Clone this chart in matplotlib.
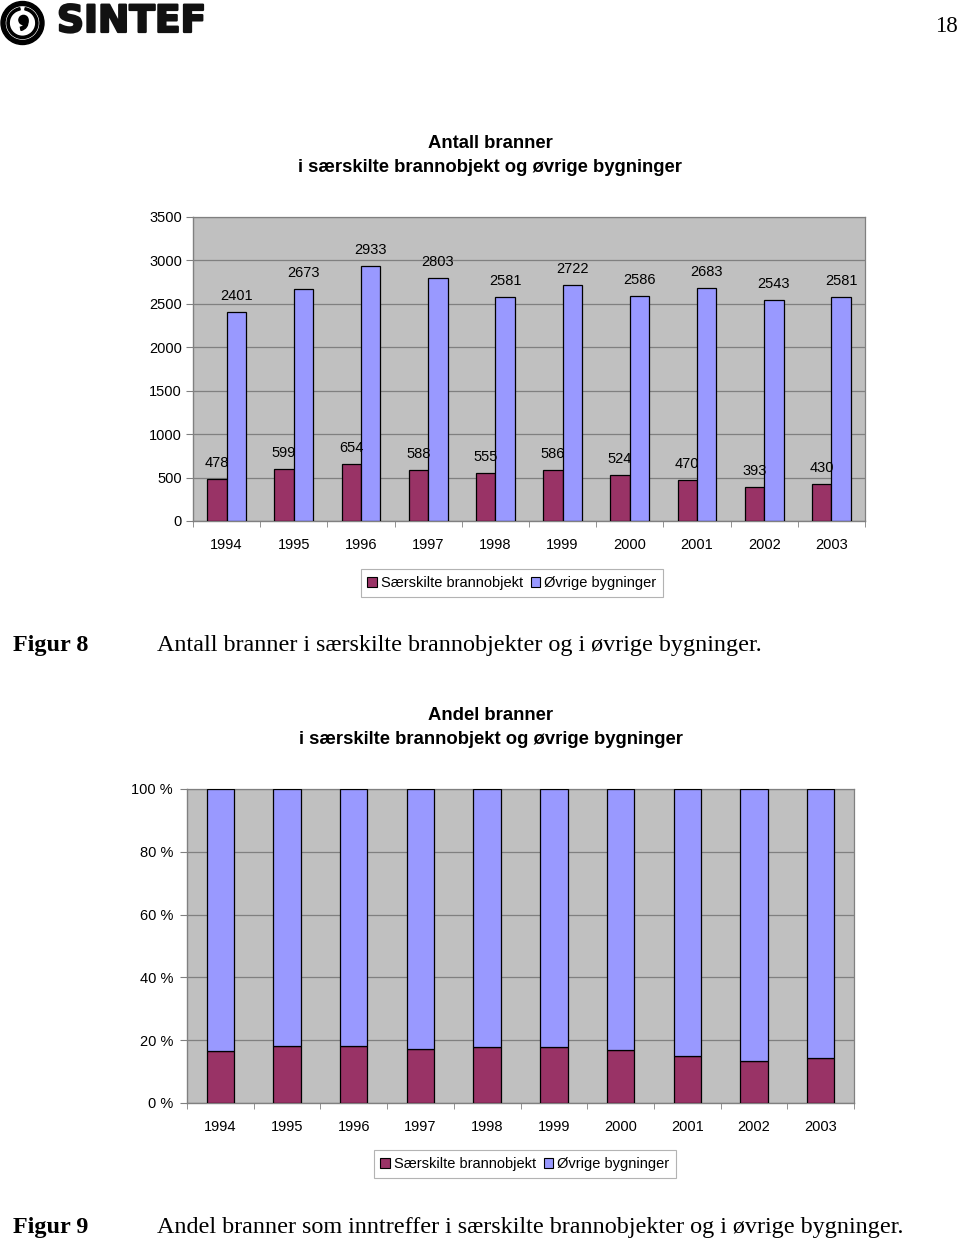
import matplotlib
matplotlib.use("Agg")
import matplotlib.pyplot as plt
import matplotlib.patheffects as pe
import numpy as np
from matplotlib.patches import Circle, Wedge, Rectangle

years = ["1994", "1995", "1996", "1997", "1998", "1999", "2000", "2001", "2002", "2003"]
saerskilte = [478, 599, 654, 588, 555, 586, 524, 470, 393, 430]
ovrige = [2401, 2673, 2933, 2803, 2581, 2722, 2586, 2683, 2543, 2581]
series_names = ["Særskilte brannobjekt", "Øvrige bygninger"]
y1_ticks = [0, 500, 1000, 1500, 2000, 2500, 3000, 3500]
y2_ticks = [0, 20, 40, 60, 80, 100]

MAROON = "#993366"
BLUE = "#9999FF"
PLOT_BG = "#C0C0C0"
GRID = "#808080"
AXC = "#808080"
W, H = 960, 1243
SANS = "Liberation Sans"
SERIF = "Liberation Serif"
CAP = 17.4
TITLE = 13.3

fig = plt.figure(figsize=(W / 100, H / 100), dpi=100)
fig.patch.set_facecolor("white")


def fx(px):
    return px / W


def fy(py):
    return 1 - py / H


def style_axes(ax, ymax, yticks, ylabels, ytick_pad):
    ax.set_facecolor(PLOT_BG)
    ax.set_xlim(0, len(years))
    ax.set_ylim(0, ymax)
    ax.set_yticks(yticks)
    ax.set_yticklabels(ylabels, fontfamily=SANS, fontsize=10.5)
    ax.yaxis.grid(True, color=GRID, linewidth=0.9)
    ax.set_axisbelow(True)
    ax.set_xticks(np.arange(len(years)) + 0.5)
    ax.set_xticklabels(years, fontfamily=SANS, fontsize=10.5)
    ax.set_xticks(np.arange(len(years) + 1), minor=True)
    ax.tick_params(axis="x", which="major", length=0, pad=12)
    ax.tick_params(axis="x", which="minor", length=4, color=AXC, direction="out")
    ax.tick_params(axis="y", length=5, color=AXC, direction="out", pad=ytick_pad)
    for s in ["left", "bottom"]:
        ax.spines[s].set_color(AXC)
        ax.spines[s].set_linewidth(1.0)
    for s in ["top", "right"]:
        ax.spines[s].set_color(GRID)
        ax.spines[s].set_linewidth(0.9)


def add_legend(cx, cy):
    handles = [Rectangle((0, 0), 1, 1, facecolor=MAROON, edgecolor="black", linewidth=0.8),
               Rectangle((0, 0), 1, 1, facecolor=BLUE, edgecolor="black", linewidth=0.8)]
    leg = fig.legend(handles, series_names, loc="center", bbox_to_anchor=(fx(cx), fy(cy)),
                     bbox_transform=fig.transFigure, ncol=2, frameon=True, fancybox=False,
                     edgecolor="#A0A0A0", prop={"family": SANS, "size": 10.5},
                     handlelength=0.65, handleheight=0.65, handletextpad=0.3,
                     columnspacing=0.5, borderpad=0.45, borderaxespad=0)
    leg.get_frame().set_linewidth(0.8)


# ---------- Header ----------
logo = fig.add_axes([fx(0), fy(46), fx(46), 46 / H])
logo.set_xlim(0, 46)
logo.set_ylim(0, 46)
logo.set_aspect("equal")
logo.axis("off")
logo.add_patch(Wedge((22.5, 23), 21.5, 0, 360, width=4.0, color="black"))
logo.add_patch(Wedge((22.5, 23), 15.5, 100, 80, width=2.2, color="black"))
logo.add_patch(Circle((23.5, 26), 4.6, color="black"))
logo.add_patch(Wedge((19.5, 24), 8.5, -80, 10, width=3.2, color="black"))

fig.text(fx(57), fy(22), "SINTEF", fontfamily="DejaVu Sans", fontweight="bold",
         fontsize=27, ha="left", va="center", color="#111111",
         path_effects=[pe.withStroke(linewidth=1.6, foreground="#111111")])
fig.text(fx(958), fy(26), "18", fontfamily=SERIF, fontsize=16.5, ha="right", va="center")

# ---------- Chart 1 ----------
ax1 = fig.add_axes([fx(193), fy(521), fx(865 - 193), (521 - 217) / H])
style_axes(ax1, 3500, y1_ticks, [str(t) for t in y1_ticks], 3)
x = np.arange(len(years))
bw = 0.29
b1 = ax1.bar(x + 0.5 - bw / 2, saerskilte, width=bw, color=MAROON, edgecolor="black", linewidth=0.9, zorder=3)
b2 = ax1.bar(x + 0.5 + bw / 2, ovrige, width=bw, color=BLUE, edgecolor="black", linewidth=0.9, zorder=3)
for bars, vals in [(b1, saerskilte), (b2, ovrige)]:
    for r, v in zip(bars, vals):
        ax1.annotate(str(v), (r.get_x() + r.get_width() / 2, v), xytext=(0, 6.5),
                     textcoords="offset points", ha="center", va="bottom",
                     fontfamily=SANS, fontsize=10.5, zorder=4)

fig.text(fx(490), fy(143), "Antall branner", fontfamily=SANS, fontweight="bold",
         fontsize=TITLE, ha="center", va="center")
fig.text(fx(490), fy(167), "i særskilte brannobjekt og øvrige bygninger", fontfamily=SANS,
         fontweight="bold", fontsize=TITLE, ha="center", va="center")
add_legend(512, 583)

fig.text(fx(13), fy(646), "Figur 8", fontfamily=SERIF, fontweight="bold", fontsize=CAP,
         ha="left", va="center")
fig.text(fx(157), fy(646), "Antall branner i særskilte brannobjekter og i øvrige bygninger.",
         fontfamily=SERIF, fontsize=CAP, ha="left", va="center")

# ---------- Chart 2 ----------
ax2 = fig.add_axes([fx(187), fy(1103), fx(854 - 187), (1103 - 789) / H])
style_axes(ax2, 100, y2_ticks, [f"{t} %" for t in y2_ticks], 5)
tot = np.array(saerskilte) + np.array(ovrige)
p1 = np.array(saerskilte) / tot * 100
p2 = np.array(ovrige) / tot * 100
bw2 = 0.41
ax2.bar(x + 0.5, p1, width=bw2, color=MAROON, edgecolor="black", linewidth=0.9, zorder=3)
ax2.bar(x + 0.5, p2, bottom=p1, width=bw2, color=BLUE, edgecolor="black", linewidth=0.9, zorder=3)

fig.text(fx(491), fy(716), "Andel branner", fontfamily=SANS, fontweight="bold",
         fontsize=TITLE, ha="center", va="center")
fig.text(fx(491), fy(740), "i særskilte brannobjekt og øvrige bygninger", fontfamily=SANS,
         fontweight="bold", fontsize=TITLE, ha="center", va="center")
add_legend(525, 1164)

fig.text(fx(13), fy(1228), "Figur 9", fontfamily=SERIF, fontweight="bold", fontsize=CAP,
         ha="left", va="center")
fig.text(fx(157), fy(1228), "Andel branner som inntreffer i særskilte brannobjekter og i øvrige bygninger.",
         fontfamily=SERIF, fontsize=CAP, ha="left", va="center")

fig.savefig("out.png", dpi=100, facecolor="white")
